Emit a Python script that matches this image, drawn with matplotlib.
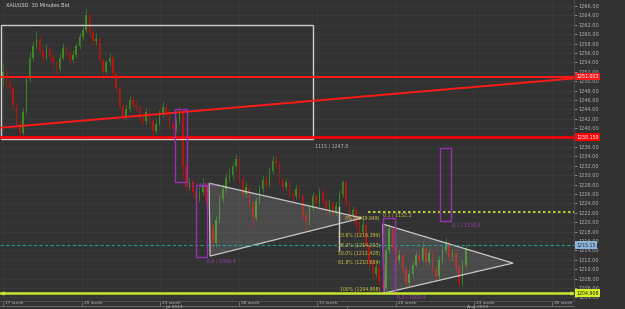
import numpy as np
import matplotlib
matplotlib.use("Agg")
import matplotlib.pyplot as plt
import matplotlib.transforms as mtransforms
from matplotlib.patches import Polygon, Rectangle

# 30 minute candles (close / high / low), open = previous close
first_open = 1250.5
closes = [
    1252.0, 1249.5, 1248.5, 1245.0, 1241.0, 1239.0, 1243.5, 1250.5, 1255.0, 1257.5,
    1259.0, 1256.5, 1255.0, 1256.8, 1255.2, 1254.0, 1252.5, 1255.0, 1257.0, 1256.0,
    1254.5, 1255.5, 1257.5, 1259.5, 1261.0, 1264.0, 1260.5, 1258.5, 1259.0, 1254.5,
    1252.0, 1254.0, 1255.0, 1251.5, 1248.5, 1244.5, 1242.5, 1244.0, 1246.0, 1245.0,
    1244.5, 1242.0, 1241.5, 1243.5, 1241.5, 1239.5, 1241.0, 1243.0, 1244.5, 1243.5,
    1241.0, 1239.8, 1241.5, 1243.5, 1232.0, 1227.5, 1228.5, 1226.5, 1225.0, 1226.5,
    1228.0, 1224.5, 1219.0, 1215.5, 1220.5, 1225.0, 1227.0, 1229.5, 1230.0, 1232.0,
    1233.5, 1229.0, 1226.0, 1227.5, 1224.0, 1221.0, 1224.5, 1227.0, 1229.0, 1228.0,
    1231.0, 1233.0, 1232.5, 1229.0, 1227.5, 1228.5, 1226.0, 1225.5, 1227.0, 1225.5,
    1221.5, 1220.0, 1223.0, 1225.5, 1224.0, 1226.5, 1224.5, 1222.5, 1224.0, 1222.0,
    1223.5, 1226.0, 1228.5, 1224.0, 1221.5, 1222.5, 1219.5, 1218.0, 1219.5, 1215.0,
    1211.5, 1209.0, 1210.5, 1207.5, 1206.0, 1214.0, 1218.5, 1214.5, 1212.0, 1213.0,
    1210.0, 1207.0, 1209.0, 1211.0, 1213.0, 1212.0, 1214.5, 1211.5, 1213.5, 1210.0,
    1208.5, 1212.0, 1214.0, 1215.5, 1212.5, 1213.5, 1210.5, 1207.0, 1211.0, 1214.5,
]
highs = [
    1253.9, 1252.8, 1250.6, 1249.0, 1245.6, 1241.8, 1244.2, 1251.2, 1256.4, 1258.6,
    1260.6, 1259.6, 1257.4, 1257.9, 1257.3, 1256.0, 1254.6, 1256.0, 1258.1, 1257.8,
    1256.5, 1256.6, 1258.2, 1260.3, 1262.2, 1265.6, 1264.5, 1261.0, 1260.2, 1259.4,
    1255.0, 1254.8, 1256.1, 1255.6, 1252.2, 1249.0, 1245.2, 1245.0, 1246.8, 1247.0,
    1245.9, 1245.0, 1243.0, 1244.3, 1244.0, 1242.0, 1241.8, 1243.8, 1245.8, 1245.2,
    1244.0, 1241.6, 1242.4, 1244.5, 1244.0, 1232.6, 1229.6, 1229.2, 1227.2, 1227.6,
    1229.5, 1228.6, 1225.0, 1219.6, 1221.4, 1225.8, 1228.2, 1230.4, 1231.5, 1232.9,
    1234.6, 1234.0, 1229.8, 1228.6, 1228.0, 1224.6, 1225.3, 1227.9, 1230.1, 1229.8,
    1231.8, 1234.0, 1234.5, 1233.0, 1229.7, 1229.4, 1229.0, 1226.9, 1228.0, 1227.6,
    1226.0, 1222.3, 1223.9, 1226.4, 1226.1, 1227.3, 1227.0, 1225.1, 1224.9, 1224.6,
    1224.4, 1226.8, 1229.0, 1228.9, 1224.5, 1223.4, 1223.0, 1220.2, 1221.5, 1220.0,
    1215.6, 1212.3, 1211.6, 1211.0, 1208.2, 1214.8, 1219.6, 1219.0, 1215.2, 1214.1,
    1213.6, 1210.6, 1209.9, 1211.8, 1213.9, 1213.7, 1215.8, 1215.0, 1214.3, 1214.0,
    1210.7, 1212.8, 1214.9, 1216.8, 1216.0, 1214.4, 1214.0, 1211.1, 1211.9, 1215.3,
]
lows = [
    1249.0, 1248.6, 1247.2, 1243.8, 1240.2, 1238.2, 1238.6, 1243.0, 1249.8, 1254.2,
    1256.8, 1255.8, 1254.0, 1254.5, 1254.3, 1252.9, 1251.4, 1252.0, 1254.6, 1255.1,
    1253.6, 1253.8, 1255.0, 1256.9, 1258.8, 1260.5, 1259.6, 1257.6, 1257.8, 1253.8,
    1250.5, 1251.6, 1253.2, 1250.8, 1247.6, 1243.8, 1241.5, 1242.0, 1243.4, 1244.2,
    1243.6, 1241.3, 1240.6, 1241.0, 1240.8, 1237.5, 1238.8, 1240.5, 1242.4, 1242.6,
    1240.2, 1238.5, 1239.2, 1240.9, 1229.4, 1226.4, 1226.8, 1225.6, 1224.1, 1224.4,
    1225.8, 1223.6, 1217.8, 1213.2, 1214.8, 1219.9, 1224.2, 1226.3, 1228.6, 1229.3,
    1231.2, 1228.2, 1225.1, 1225.4, 1223.0, 1219.0, 1220.4, 1223.8, 1226.2, 1227.0,
    1227.4, 1230.3, 1231.6, 1228.2, 1226.6, 1226.9, 1225.2, 1224.6, 1224.9, 1224.7,
    1220.6, 1217.9, 1219.4, 1222.4, 1223.1, 1223.5, 1223.8, 1221.6, 1221.9, 1221.2,
    1221.5, 1223.0, 1225.4, 1223.2, 1220.6, 1220.9, 1218.6, 1217.0, 1217.4, 1214.1,
    1210.4, 1208.0, 1208.4, 1206.6, 1204.9, 1205.5, 1213.4, 1213.6, 1211.1, 1211.3,
    1209.0, 1206.0, 1206.4, 1208.3, 1210.4, 1211.2, 1211.5, 1210.6, 1210.9, 1209.2,
    1207.4, 1208.0, 1211.3, 1213.4, 1211.6, 1211.8, 1209.6, 1206.0, 1206.5, 1210.4,
]

# axis labels
price_ticks = np.arange(1204, 1267, 2)
week_pos = [0, 23.7, 47.1, 70.9, 94.3, 118.0, 141.4, 164.9]
week_labels = ["17 week", "20 week", "23 week", "28 week", "31 week", "20 week", "23 week", "26 week"]
month_pos = [51.4, 142.6]
month_labels = ["Jul 2019", "Aug 2019"]
month_split = 103.3

# drawing objects (bar index, price)
white_box = (-0.6, 93.1, 1237.6, 1262.0)
red_levels = [1251.0, 1238.1]
red_trend_x = [-0.9, 171.5]
red_trend_y = [1240.1, 1250.6]
purple_boxes = [
    (51.7, 55.3, 1228.6, 1244.1),
    (58.0, 61.3, 1212.6, 1227.9),
    (114.1, 117.7, 1204.9, 1220.9),
    (131.2, 134.5, 1220.3, 1235.8),
]
purple_notes = [
    (55.3, 1227.9, "0.1 / 1000.0"),
    (61.3, 1211.7, "0.0 / 1000.4"),
    (134.8, 1219.4, "0.1 / 1150.4"),
    (118.3, 1204.1, "0.0 / 1000.4"),
]
triangles = [
    [(61.9, 1228.3), (62.2, 1212.8), (107.8, 1220.9)],
    [(114.1, 1219.6), (114.4, 1204.9), (153.2, 1211.3)],
]
fib_high = 1219.949
fib_low = 1204.908
fib_ratios = [0.0, 23.6, 38.2, 50.0, 61.8, 100.0]
fib_label_x = 113.2
teal_level = 1215.15
yellow_dotted = 1222.2
yellow_dotted_start = 109.6
yellow_level = 1204.908
marker_x = 100.9
marker_y = [1214.1, 1223.3]

BG = "#323232"
GRID = "#3b3b3b"
TXT = "#b4b4b4"

fig = plt.figure(figsize=(6.25, 3.09), dpi=100, facecolor=BG)
ax = fig.add_axes([0, 9 / 309, 574 / 625, 300 / 309], facecolor=BG)

n = len(closes)
x = np.arange(n)
c = np.array(closes)
o = np.concatenate([[first_open], c[:-1]])
h = np.array(highs)
l = np.array(lows)
up = c >= o
col = np.where(up, "#3c8a22", "#b3160f")

ax.vlines(x, l, h, colors=col, linewidth=0.5, zorder=3)
ax.bar(x, np.maximum(np.abs(c - o), 0.15), bottom=np.minimum(o, c), width=0.45,
       color=col, linewidth=0, zorder=3)

# grid
for p in price_ticks:
    ax.axhline(p, color=GRID, lw=0.5, zorder=0)
for wx in week_pos:
    ax.axvline(wx, color=GRID, lw=0.5, zorder=0)

# white box + red lines
x0, x1, y0, y1 = white_box
ax.add_patch(Rectangle((x0, y0), x1 - x0, y1 - y0, fill=False, ec="#cfcfcf", lw=1.0, zorder=4))
ax.axhline(red_levels[0], color="#ff1a1a", lw=1.4, zorder=5)
ax.axhline(red_levels[1], color="#ff0000", lw=1.9, zorder=5)
ax.plot(red_trend_x, red_trend_y, color="#ff1a1a", lw=1.4, zorder=5)
ax.text(x1 + 0.6, y0 - 1.4, "1115 / 1247.8", color=TXT, fontsize=3.4, va="center", ha="left")

# triangles
for tri in triangles:
    ax.add_patch(Polygon(tri, closed=True, fc=(1, 1, 1, 0.12), ec="#c8c8c8", lw=0.9, zorder=4))
ax.plot([marker_x, marker_x], marker_y, color="#d0d0d0", lw=1.0, zorder=4)

# purple measure boxes
for bx0, bx1, by0, by1 in purple_boxes:
    ax.add_patch(Rectangle((bx0, by0), bx1 - bx0, by1 - by0, fill=False, ec="#9a2fae", lw=1.0, zorder=6))
for nx, ny, s in purple_notes:
    ax.text(nx, ny, s, color="#a23ab8", fontsize=3.4, va="center", ha="left", zorder=7)
ax.text(114.1, 1220.9, "0.1 / 1152.2", color="#c8b040", fontsize=3.4, va="bottom", ha="left", zorder=7)

# fibonacci labels
for r in fib_ratios:
    lv = fib_high - (fib_high - fib_low) * r / 100
    ax.text(fib_label_x, lv + 0.3, f"{r:.1f}% ({lv:.3f})" if r not in (0, 100) else f"{r:.0f}% ({lv:.3f})",
            color="#d8c848", fontsize=3.3, ha="right", va="bottom", zorder=7)

# horizontal levels
ax.axhline(teal_level, color="#1f9c9c", lw=0.8, ls=(0, (3, 2)), zorder=5)
ax.plot([yellow_dotted_start, 171.5], [yellow_dotted] * 2, color="#b9c832", lw=1.5,
        ls=(0, (1.2, 1.2)), zorder=5)
ax.axhline(yellow_level, color="#c6e62e", lw=1.8, zorder=6)
ax.plot([0, 170.6], [yellow_level] * 2, "s", color="#c6e62e", ms=2, zorder=6)

ax.set_xlim(-0.9, 171.5)
ax.set_ylim(1203.45, 1267.28)

# right price axis, labels hidden where a price tag sits on top
tag_prices = [red_levels[0], red_levels[1], teal_level, yellow_level]
ax.yaxis.tick_right()
ax.set_yticks(price_ticks)
ax.set_yticklabels([f"{p:.2f}" if min(abs(p - t) for t in tag_prices) > 0.6 else ""
                    for p in price_ticks])
ax.tick_params(axis="y", colors=TXT, labelsize=3.6, length=2, width=0.5, pad=1.5)
ax.set_xticks([])
for s in ["top", "left", "bottom"]:
    ax.spines[s].set_visible(False)
ax.spines["right"].set_color("#4a4a4a")

tr = mtransforms.blended_transform_factory(ax.transAxes, ax.transData)
tags = [
    (red_levels[0], "1251.003", "#ff1a1a", "white"),
    (red_levels[1], "1238.159", "#ff0000", "white"),
    (teal_level, "1215.15", "#8cb4d8", "#1e2a40"),
    (yellow_level, "1204.908", "#d4f020", "#202020"),
]
for ty, s, bg, fg in tags:
    ax.text(1.004, ty, s, transform=tr, color=fg, fontsize=3.4, va="center", ha="left",
            bbox=dict(boxstyle="square,pad=0.25", fc=bg, ec="none"), zorder=8, clip_on=False)

ax.text(6 / 574, 1 - 5 / 300, "XAU/USD  30 Minutes Bid", transform=ax.transAxes,
        color="#d8d8d8", fontsize=3.6, va="center", ha="left")

# time axis
trx = mtransforms.blended_transform_factory(ax.transData, ax.transAxes)
ax.plot([0, 1], [-1 / 300, -1 / 300], transform=ax.transAxes, color="#555555", lw=0.6, clip_on=False)
ax.plot([0, 1], [-5.5 / 300, -5.5 / 300], transform=ax.transAxes, color="#777777", lw=0.6, clip_on=False)
for wx, s in zip(week_pos, week_labels):
    ax.plot([wx, wx], [-1.5 / 300, -5 / 300], transform=trx, color="#8a8a8a", lw=0.5, clip_on=False)
    ax.text(wx + 0.6, -3.3 / 300, s, transform=trx, color=TXT, fontsize=3.2,
            va="center", ha="left", clip_on=False)
ax.plot([month_split, month_split], [-5.5 / 300, -9 / 300], transform=trx, color="#8a8a8a",
        lw=0.5, clip_on=False)
for mx, s in zip(month_pos, month_labels):
    ax.text(mx, -7.3 / 300, s, transform=trx, color=TXT, fontsize=3.2,
            va="center", ha="center", clip_on=False)

fig.savefig("out.png", dpi=100, facecolor=BG)
